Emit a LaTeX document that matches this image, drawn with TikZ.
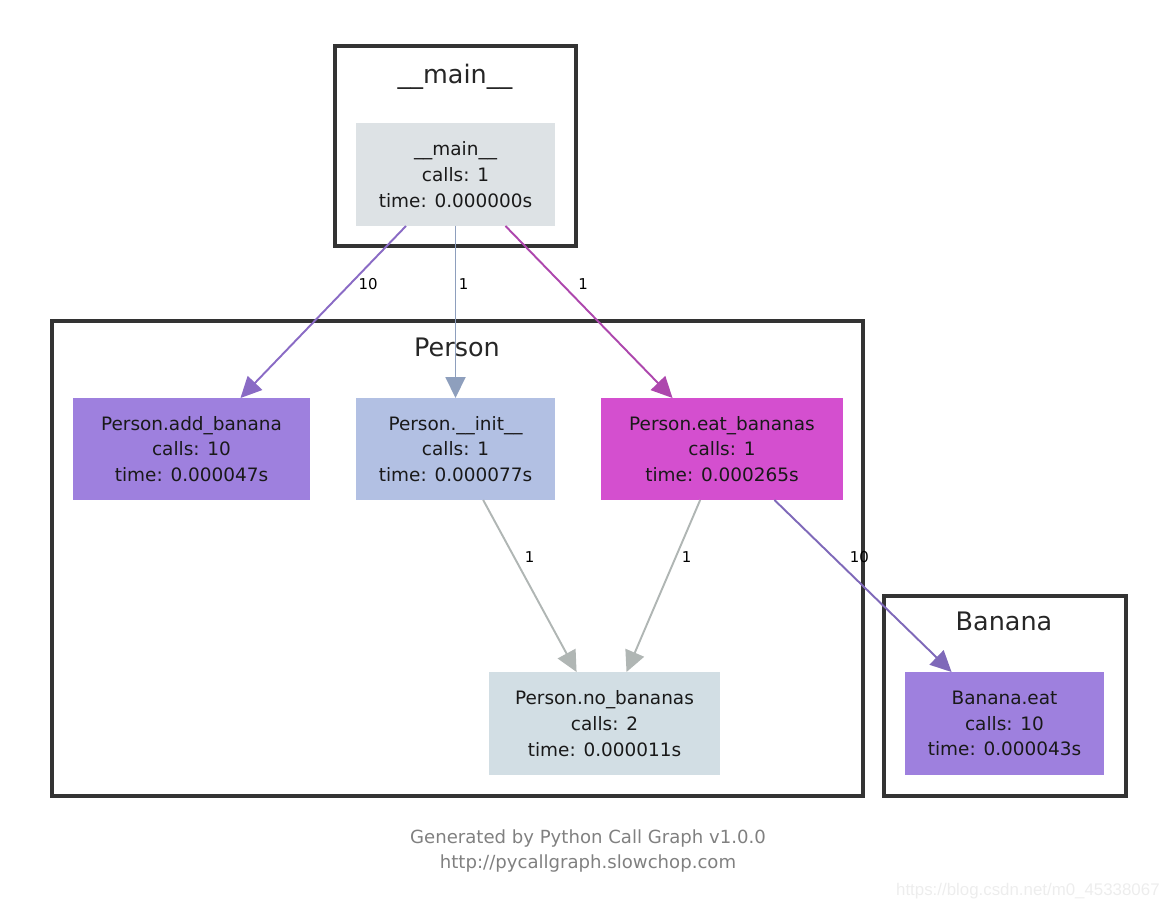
\documentclass[tikz,border=0pt]{standalone}
\usepackage{fontspec}
\setmainfont{DejaVu Sans}
\newfontfamily\markfont{Liberation Sans}
\usetikzlibrary{arrows.meta}

\definecolor{clusterline}{HTML}{333333}
\definecolor{mainfill}{HTML}{DDE2E5}
\definecolor{violetfill}{HTML}{9E80DE}
\definecolor{initfill}{HTML}{B2C0E3}
\definecolor{eatfill}{HTML}{D44FCF}
\definecolor{nofill}{HTML}{D2DEE4}
\definecolor{addedge}{HTML}{8A6BC5}
\definecolor{initedge}{HTML}{8E9FBD}
\definecolor{eatedge}{HTML}{AD47AD}
\definecolor{grayedge}{HTML}{B0B6B4}
\definecolor{bananaedge}{HTML}{7F69B9}

\tikzset{
  func/.style={rectangle, inner sep=0pt, outer sep=0pt, align=center,
    text=black!90, font=\fontsize{10.5}{14.7}\selectfont},
  cluster/.style={draw=clusterline, line width=2.3pt},
  ctitle/.style={font=\fontsize{14.5}{17}\selectfont, text=black!85},
  call/.style={line width=1.1pt, -{Triangle[length=0.42cm,width=0.4cm]}},
  elabel/.style={font=\fontsize{8.5}{10}\selectfont, text=black, anchor=west, inner sep=0pt}
}

\begin{document}
\begin{tikzpicture}[x=0.02cm,y=-0.02cm]
            \useasboundingbox (0,0) rectangle (1170,910);

            % Clusters
            \draw[cluster] (335,46) rectangle (576,246);
            \draw[cluster] (52,321) rectangle (863,796);
            \draw[cluster] (884,596) rectangle (1126,796);
            \node[ctitle] (tmain) at (455,77) {\_\_main\_\_};
            \node[ctitle] (tperson) at (457,347) {Person};
            \node[ctitle] (tbanana) at (1004,621) {Banana};

            % Functions
            \node[func, fill=mainfill, minimum width=3.98cm, minimum height=2.06cm] (mainfn) at (455.5,174.5)
                {\_\_main\_\_\\calls: 1\\time: 0.000000s};
            \node[func, fill=violetfill, minimum width=4.74cm, minimum height=2.04cm] (addb) at (191.5,449)
                {Person.add\_banana\\calls: 10\\time: 0.000047s};
            \node[func, fill=initfill, minimum width=3.98cm, minimum height=2.04cm] (initfn) at (455.5,449)
                {Person.\_\_init\_\_\\calls: 1\\time: 0.000077s};
            \node[func, fill=eatfill, minimum width=4.84cm, minimum height=2.04cm] (eatb) at (722,449)
                {Person.eat\_bananas\\calls: 1\\time: 0.000265s};
            \node[func, fill=nofill, minimum width=4.62cm, minimum height=2.06cm] (nob) at (604.5,723.5)
                {Person.no\_bananas\\calls: 2\\time: 0.000011s};
            \node[func, fill=violetfill, minimum width=3.98cm, minimum height=2.06cm] (beat) at (1004.5,723.5)
                {Banana.eat\\calls: 10\\time: 0.000043s};

            % Calls
            \draw[call, draw=addedge, fill=addedge] (mainfn) -- (addb) node[elabel, pos=0.34, xshift=0.16cm] {10};
            \draw[call, draw=initedge, fill=initedge] (mainfn) -- (initfn) node[elabel, pos=0.34, xshift=0.05cm] {1};
            \draw[call, draw=eatedge, fill=eatedge] (mainfn) -- (eatb) node[elabel, pos=0.34, xshift=0.3cm] {1};
            \draw[call, draw=grayedge, fill=grayedge] (initfn) -- (nob) node[elabel, pos=0.33, xshift=0.2cm] {1};
            \draw[call, draw=grayedge, fill=grayedge] (eatb) -- (nob) node[elabel, pos=0.33, xshift=0.1cm] {1};
            \draw[call, draw=bananaedge, fill=bananaedge] (eatb) -- (beat) node[elabel, pos=0.33, xshift=0.32cm] {10};

            % Footer
            \node[font=\fontsize{10.3}{14.7}\selectfont, text=black!50, align=center] (footer) at (588,851)
                {Generated by Python Call Graph v1.0.0\\http://pycallgraph.slowchop.com};
            \node[font=\fontsize{9.6}{11}\markfont, text=black!7, anchor=east, inner sep=0pt] (mark) at (1160,891)
                {https://blog.csdn.net/m0\_45338067};
\end{tikzpicture}
\end{document}
